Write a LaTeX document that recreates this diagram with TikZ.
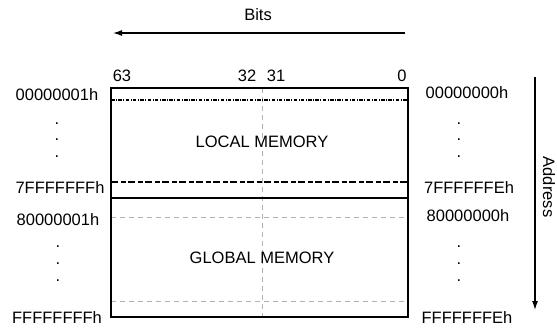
\documentclass[tikz,border=0pt]{standalone}
\usepackage{fontspec}
\setmainfont{Liberation Sans}
\usepackage{tikz}
\usetikzlibrary{arrows.meta, positioning, calc}

\begin{document}
\begin{tikzpicture}[x=1pt, y=-1pt,
    every node/.style={font=\fontsize{16.5}{19}\selectfont, inner sep=0pt},
    addr/.style={anchor=center},
    bitnum/.style={anchor=base},
    grid/.style={draw=black!30, line width=0.5pt, dash pattern=on 5pt off 4pt},
    topline/.style={line width=1.8pt, dash pattern=on 3.5pt off 1.5pt on 0.8pt off 1.5pt},
    midline/.style={line width=2pt, dash pattern=on 7pt off 2.5pt on 5pt off 2.5pt},
    dirarrow/.style={line width=1.2pt, -{Latex[length=9pt, width=6pt]}}]
  \useasboundingbox (0,0) rectangle (557,327);

  % bit direction
  \node (bits) at (258,15) {Bits};
  \coordinate (bitsR) at (405,33);
  \coordinate (bitsL) at (113,33);
  \draw[dirarrow] (bitsR) -- (bitsL);

  % memory block
  \coordinate (tl) at (111,88);
  \coordinate (br) at (408,317);
  \draw[grid] (262,88) -- (262,317);
  \draw[grid] (111,217) -- (408,217);
  \draw[grid] (111,301) -- (408,301);
  \draw[topline] (111,100) -- (408,100);
  \draw[midline] (111,182) -- (408,182);
  \draw[line width=1.2pt] (111,198) -- (408,198);
  \draw[line width=1.2pt] (tl) rectangle (br);

  \node[bitnum] (b63) at (122,81) {63};
  \node[bitnum] (b32) at (247,81) {32};
  \node[bitnum] (b31) at (276,81) {31};
  \node[bitnum] (b0) at (402,81) {0};

  \node (local) at (262,142) {LOCAL MEMORY};
  \node (global) at (262,258) {GLOBAL MEMORY};

  % addresses, left side
  \node[addr] (l1) at (57,95) {00000001h};
  \node[addr] (l2) at (60,188) {7FFFFFFFh};
  \node[addr] (l3) at (58,220) {80000001h};
  \node[addr] (l4) at (57,318) {FFFFFFFFh};

  % addresses, right side
  \node[addr] (r1) at (467,93) {00000000h};
  \node[addr] (r2) at (469,188) {7FFFFFFEh};
  \node[addr] (r3) at (468,216) {80000000h};
  \node[addr] (r4) at (467,318) {FFFFFFFEh};

  \foreach \y/\n in {124/1, 140/2, 157/3} {
    \node (ldot\n) at (57,\y) {.};
    \node (rdot\n) at (459,\y) {.};
  }
  \foreach \y/\n in {247/1, 264/2, 281/3} {
    \node (lgdot\n) at (58,\y) {.};
    \node (rgdot\n) at (459,\y) {.};
  }

  % address direction
  \coordinate (addrT) at (535,77);
  \coordinate (addrB) at (535,310);
  \draw[dirarrow] (addrT) -- (addrB);
  \node[rotate=-90] (address) at (549,187) {Address};
\end{tikzpicture}
\end{document}
